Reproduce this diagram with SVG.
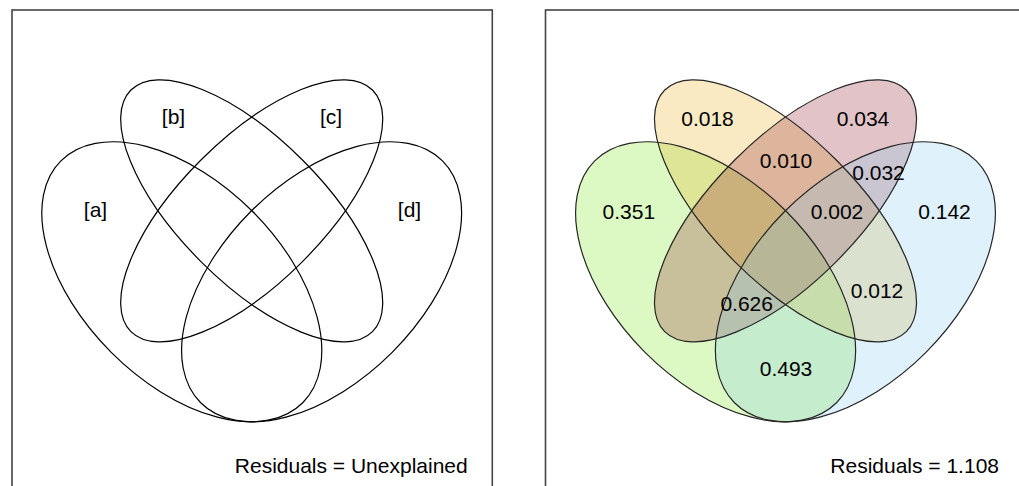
<svg xmlns="http://www.w3.org/2000/svg" width="1019" height="486" viewBox="0 0 1019 486">
  <style>
    .panel { fill: #ffffff; stroke: #444444; stroke-width: 1.6; }
    .outline { fill: none; stroke: #000000; stroke-width: 1.2; }
    .outline2 { fill: none; stroke: #262626; stroke-width: 1.2; }
    .lbl { font-family: "Liberation Sans", Arial, sans-serif; font-size: 21px; fill: #000000; text-anchor: middle; }
    .res { font-family: "Liberation Sans", Arial, sans-serif; font-size: 21px; fill: #000000; text-anchor: end; }
    .fa { fill: #77E70F; fill-opacity: 0.25; stroke: none; }
    .fb { fill: #E7AB13; fill-opacity: 0.25; stroke: none; }
    .fc { fill: #8B1323; fill-opacity: 0.25; stroke: none; }
    .fd { fill: #7FC7EB; fill-opacity: 0.25; stroke: none; }
  </style>
  <defs>
    <ellipse id="shpA" cx="0" cy="0" rx="171" ry="99.8"/>
    <ellipse id="shpB" cx="0" cy="0" rx="170.8" ry="71.8"/>
  </defs>
  <rect width="1019" height="486" fill="#ffffff"/>

  <!-- Left panel -->
  <g id="panel-left">
    <rect class="panel" x="12" y="10" width="480.3" height="500"/>
    <g id="left-a"><use href="#shpA" class="outline" transform="translate(181.8 281.8) rotate(45)"/><text class="lbl" x="95.5" y="217">[a]</text></g>
    <g id="left-b"><use href="#shpB" class="outline" transform="translate(251.7 210.8) rotate(45)"/><text class="lbl" x="173.5" y="124">[b]</text></g>
    <g id="left-c"><use href="#shpB" class="outline" transform="translate(251.7 210.8) rotate(-45)"/><text class="lbl" x="331" y="124">[c]</text></g>
    <g id="left-d"><use href="#shpA" class="outline" transform="translate(321.6 281.8) rotate(-45)"/><text class="lbl" x="409.5" y="217">[d]</text></g>
    <text class="res" x="467.7" y="473.3">Residuals = Unexplained</text>
  </g>

  <!-- Right panel -->
  <g id="panel-right">
    <rect class="panel" x="545.5" y="10" width="500" height="500"/>
    <g id="right-fills">
      <use href="#shpA" class="fa" transform="translate(715.6 281.8) rotate(45)"/>
      <use href="#shpB" class="fb" transform="translate(785.5 210.8) rotate(45)"/>
      <use href="#shpB" class="fc" transform="translate(785.5 210.8) rotate(-45)"/>
      <use href="#shpA" class="fd" transform="translate(855.4 281.8) rotate(-45)"/>
    </g>
    <g id="right-a"><use href="#shpA" class="outline2" transform="translate(715.6 281.8) rotate(45)"/></g>
    <g id="right-b"><use href="#shpB" class="outline2" transform="translate(785.5 210.8) rotate(45)"/></g>
    <g id="right-c"><use href="#shpB" class="outline2" transform="translate(785.5 210.8) rotate(-45)"/></g>
    <g id="right-d"><use href="#shpA" class="outline2" transform="translate(855.4 281.8) rotate(-45)"/></g>
    <g id="right-labels">
      <text class="lbl" x="707.5" y="126">0.018</text>
      <text class="lbl" x="863" y="126">0.034</text>
      <text class="lbl" x="786" y="167.7">0.010</text>
      <text class="lbl" x="878.5" y="180">0.032</text>
      <text class="lbl" x="628.8" y="219">0.351</text>
      <text class="lbl" x="837" y="219">0.002</text>
      <text class="lbl" x="944.5" y="219">0.142</text>
      <text class="lbl" x="746.7" y="311">0.626</text>
      <text class="lbl" x="877" y="298.3">0.012</text>
      <text class="lbl" x="786" y="376">0.493</text>
    </g>
    <text class="res" x="999" y="473.3">Residuals = 1.108</text>
  </g>
</svg>
